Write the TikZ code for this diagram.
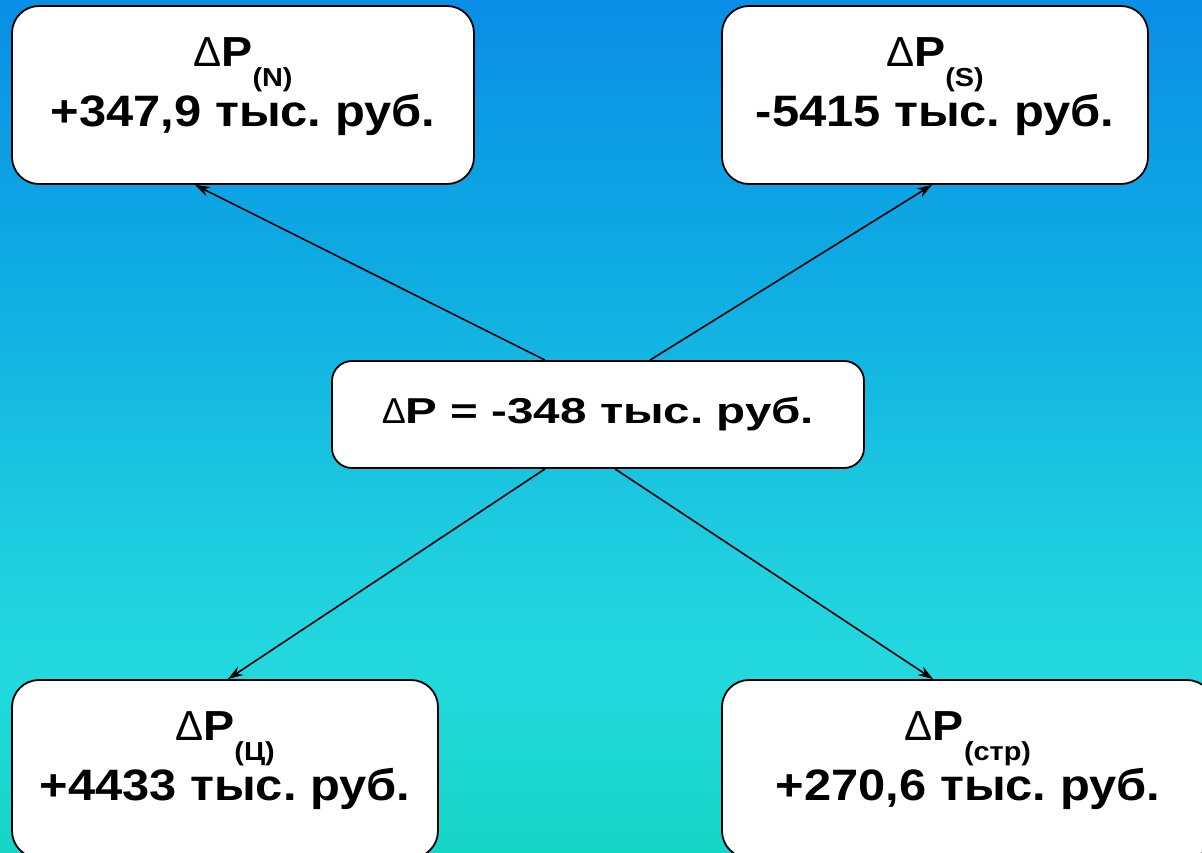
\documentclass[tikz,border=0pt]{standalone}
\usepackage{fontspec}
\setmainfont[FakeStretch=1.11]{Liberation Sans}
\newfontfamily\widefont[FakeStretch=1.32]{Liberation Sans}
\newfontfamily\deltafont{Liberation Sans}
\usetikzlibrary{arrows.meta}
\definecolor{bgtop}{RGB}{10,142,230}
\definecolor{bgupp}{RGB}{14,170,227}
\definecolor{bgmid}{RGB}{31,207,223}
\definecolor{bglow}{RGB}{34,216,222}
\definecolor{bgbot}{RGB}{22,214,198}
\pgfdeclareverticalshading{slidebg}{100bp}{color(0bp)=(bgbot); color(25bp)=(bgbot); color(36bp)=(bglow); color(42bp)=(bgmid); color(60bp)=(bgupp); color(75bp)=(bgtop); color(100bp)=(bgtop)}
\newcommand\dP[1]{{\fontsize{42}{42}\selectfont{\deltafont\mdseries Δ}P}\raisebox{-20pt}{\fontsize{26}{26}\selectfont #1}}
\frenchspacing

\begin{document}
\begin{tikzpicture}[x=1pt, y=-1pt,
		box/.style={draw=black, line width=1.8pt, fill=white, rounded corners=27pt, align=center, inner sep=0pt,
			font=\fontsize{44}{60}\selectfont\bfseries, text height=113.4pt, text depth=50pt, minimum height=178pt},
		arr/.style={line width=1.6pt, -{Stealth[length=15pt, width=10pt]}}]
			%%%%% START %%%%%
			
			\useasboundingbox (0, 0) rectangle (1202, 853);
			\clip (0, 0) rectangle (1202, 853);
			\shade[shading=slidebg] (0, 0) rectangle (1202, 853);
			
			\node[box, minimum width=462pt] (pn) at (243, 95) {\dP{(N)}\\+347,9 тыс. руб.};
			\node[box, minimum width=426pt] (ps) at (935, 95) {\dP{(S)}\\-5415 тыс. руб.};
			
			\node[box, minimum width=532pt, minimum height=107pt, rounded corners=20pt,
				font=\widefont\fontsize{36}{36}\selectfont\bfseries, text height=37pt, text depth=20pt] (pt) at (598, 414.5)
				{{\deltafont\mdseries Δ}P = -348 тыс. руб.};
			
			\node[box, minimum width=426pt] (pc) at (225, 769) {\dP{(Ц)}\\+4433 тыс. руб.};
			\node[box, minimum width=492pt] (pstr) at (968, 769) {\dP{(стр)}\\+270,6 тыс. руб.};
			
			\draw[arr] ([xshift=-53pt]pt.north) -- ([xshift=-48pt]pn.south);
			\draw[arr] ([xshift=52pt]pt.north) -- ([xshift=-3pt]ps.south);
			\draw[arr] ([xshift=-53pt]pt.south) -- ([xshift=3pt]pc.north);
			\draw[arr] ([xshift=17pt]pt.south) -- ([xshift=-35pt]pstr.north);
			
			%%%%% END %%%%%
\end{tikzpicture}
\end{document}
